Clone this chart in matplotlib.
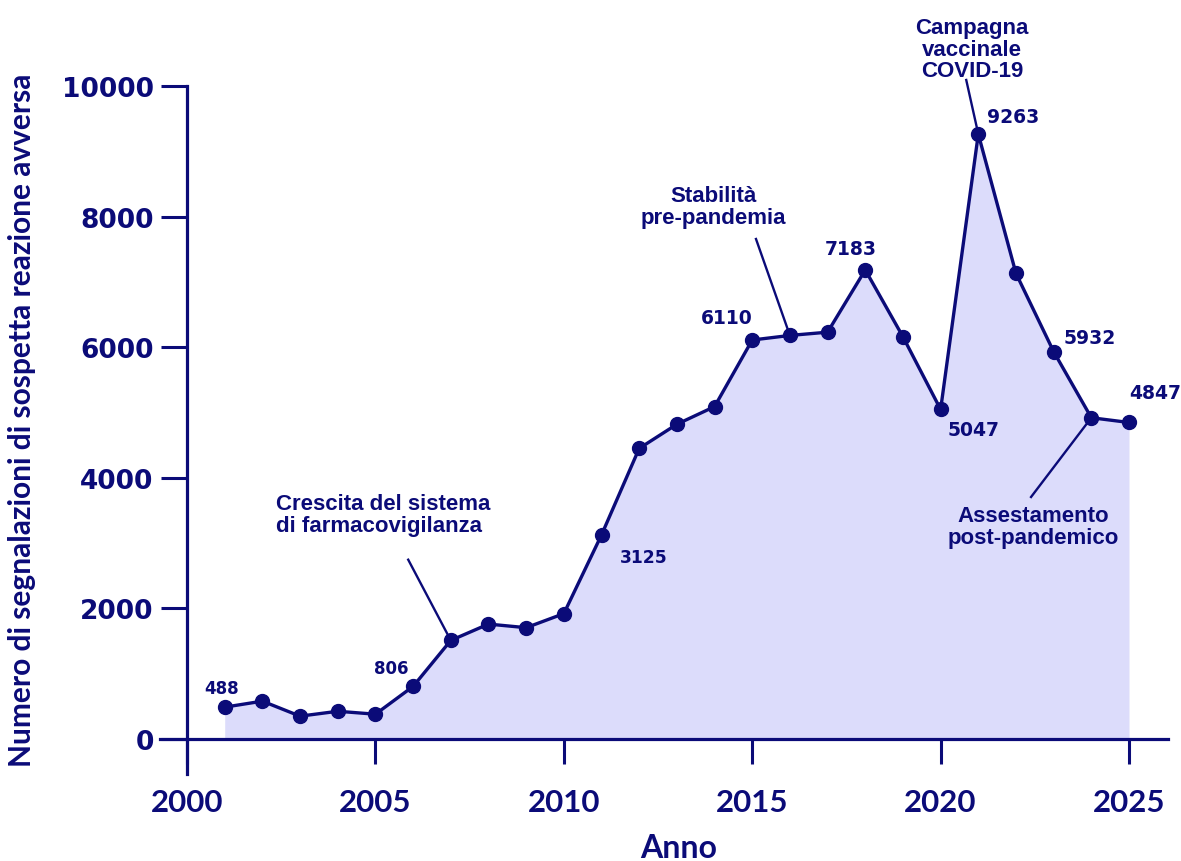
import matplotlib
matplotlib.use("Agg")
import matplotlib.pyplot as plt

# Segnalazioni annue di sospetta reazione avversa
anni   = [2001, 2002, 2003, 2004, 2005, 2006, 2007, 2008, 2009, 2010, 2011, 2012, 2013,
          2014, 2015, 2016, 2017, 2018, 2019, 2020, 2021, 2022, 2023, 2024, 2025]
valori = [488, 580, 350, 425, 380, 806, 1510, 1760, 1705, 1920, 3125, 4450, 4820,
          5090, 6110, 6180, 6230, 7183, 6160, 5047, 9263, 7130, 5932, 4920, 4847]

anni_etichettati = [2001, 2006, 2011, 2015, 2018, 2020, 2021, 2023, 2025]

x_ticks = [2000, 2005, 2010, 2015, 2020, 2025]
y_ticks = [0, 2000, 4000, 6000, 8000, 10000]

eventi = ["Crescita del sistema\ndi farmacovigilanza",
          "Stabilità\npre-pandemia",
          "Campagna\nvaccinale\nCOVID-19",
          "Assestamento\npost-pandemico"]
anni_eventi = [2007, 2016, 2021, 2024]

NAVY = "#0b0b78"
FILL = "#dcdcfb"

fig = plt.figure(figsize=(11.81, 8.62), dpi=100)
ax = fig.add_axes([0.1355, 0.1009, 0.8535, 0.7982])

ax.fill_between(anni, valori, 0, color=FILL, linewidth=0, zorder=1)
ax.plot(anni, valori, color=NAVY, lw=2.4, marker="o", ms=10, zorder=3)

ax.set_xlim(1999.283, 2026.035)
ax.set_ylim(-536, 10000)

# assi in stile "offset": y parte da 2000, x da 0
ax.spines["left"].set_position(("data", 2000))
ax.spines["bottom"].set_position(("data", 0))
ax.spines["top"].set_visible(False)
ax.spines["right"].set_visible(False)
for s in ("left", "bottom"):
    ax.spines[s].set_color(NAVY)
    ax.spines[s].set_linewidth(2.3)

ax.set_xticks(x_ticks)
ax.set_yticks(y_ticks)
ax.tick_params(axis="x", length=18, width=2.2, color=NAVY, pad=17,
               labelsize=22.5, labelcolor=NAVY)
ax.tick_params(axis="y", length=19, width=2.2, color=NAVY, pad=5,
               labelsize=19, labelcolor=NAVY)
for t in ax.get_xticklabels():
    t.set_family(["Lato", "DejaVu Sans"])
    t.set_fontweight("bold")
for t in ax.get_yticklabels():
    t.set_family("DejaVu Sans")
    t.set_fontweight("bold")

fig.text(0.575, 0.0162, "Anno", ha="center", va="center", fontsize=23,
         fontweight="bold", color=NAVY, family=["Lato", "DejaVu Sans"])
fig.text(0.0186, 0.512, "Numero di segnalazioni di sospetta reazione avversa",
         rotation=90, ha="center", va="center", fontsize=21.5,
         fontweight="bold", color=NAVY, family=["Lato", "DejaVu Sans"])

# etichette dei valori (offset in pixel rispetto al punto)
offset_etichette = {
    2001: (-3, 19, "center", 12),
    2006: (-22, 18, "center", 12),
    2011: (18, -22, "left", 12.3),
    2015: (-25, 23, "center", 13.5),
    2018: (-15, 21, "center", 13.5),
    2020: (33, -20, "center", 13.5),
    2021: (9, 18, "left", 13.5),
    2023: (10, 14, "left", 13.5),
    2025: (0, 30, "left", 13.5),
}
for anno in anni_etichettati:
    v = valori[anni.index(anno)]
    dx, dy, ha, fs = offset_etichette[anno]
    ax.annotate(str(v), (anno, v), xytext=(dx, dy), textcoords="offset pixels",
                ha=ha, va="center", fontsize=fs, fontweight="bold",
                color=NAVY, family="DejaVu Sans", zorder=4, annotation_clip=False)

# note sugli eventi con linea di richiamo
pos_testo = [(2002.36, 3760, "left"), (2013.96, 8480, "center"),
             (2020.83, 11060, "center"), (2022.45, 3580, "center")]
inizio_linea = [(2005.87, 2746), (2015.10, 7657), (2020.68, 10092), (2022.40, 3706)]
for testo, anno, (tx, ty, ha), (lx, ly) in zip(eventi, anni_eventi, pos_testo, inizio_linea):
    v = valori[anni.index(anno)]
    ax.plot([lx, anno], [ly, v], color=NAVY, lw=1.7, zorder=2, clip_on=False)
    ax.text(tx, ty, testo, ha=ha, va="top", fontsize=16, fontweight="bold",
            color=NAVY, family=["Liberation Sans", "DejaVu Sans"],
            linespacing=1.05, clip_on=False, zorder=4)

fig.savefig("out.png", dpi=100)
